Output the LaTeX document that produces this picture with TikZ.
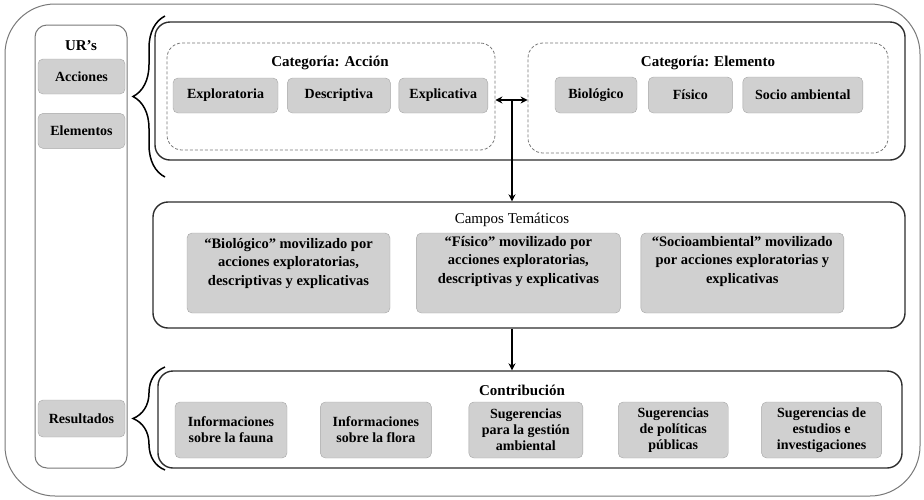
\documentclass[tikz,border=0pt]{standalone}
\usepackage{fontspec}
\setmainfont{Liberation Serif}
\usetikzlibrary{positioning, arrows.meta, decorations.pathreplacing}
\definecolor{boxgray}{RGB}{208,208,208}
\definecolor{boxedge}{RGB}{165,165,165}
\definecolor{framegray}{RGB}{45,45,45}
\definecolor{linegray}{RGB}{120,120,120}

\begin{document}
\begin{tikzpicture}[x=1pt, y=-1pt,
	item/.style={draw=boxedge, fill=boxgray, rounded corners=5pt, align=center, inner sep=0pt,
		font=\fontsize{14}{16}\selectfont\bfseries},
	tema/.style={align=center, inner sep=0pt, font=\fontsize{14.5}{18.5}\selectfont\bfseries},
	frame/.style={draw=framegray, line width=1.4pt, rounded corners=15pt, inner sep=0pt},
	group/.style={draw=linegray, line width=0.8pt, dash pattern=on 3pt off 2pt, rounded corners=15pt, inner sep=0pt},
	title/.style={font=\fontsize{15}{17}\selectfont\bfseries},
	link/.style={line width=1.6pt, -{Stealth[length=7pt, width=7pt]}},
	both/.style={line width=1.6pt, {Stealth[length=7pt, width=7pt]}-{Stealth[length=7pt, width=7pt]}},
	curly/.style={decorate, decoration={brace, amplitude=32pt, aspect=0.5}, line width=1.5pt}]

	\useasboundingbox (0,0) rectangle (924,499);
	\node[draw=linegray, line width=1pt, rounded corners=50pt, minimum width=915pt, minimum height=492pt] (all) at (462.5,250) {};

	% left column
	\node[draw=linegray, line width=1pt, rounded corners=12pt, minimum width=92pt, minimum height=443pt] (urs) at (81,246.5) {};
	\node[title] (ursT) at (81,46) {UR’s};
	\node[item, minimum width=87pt, minimum height=35pt] (acc) at (81.5,76.5) {Acciones};
	\node[item, minimum width=87pt, minimum height=35pt, below=19pt of acc] (ele) {Elementos};
	\node[item, minimum width=87pt, minimum height=37pt] (res) at (81.5,418.5) {Resultados};

	% categorias
	\node[frame, minimum width=750pt, minimum height=138pt] (cat) at (530,91) {};
	\node[group, minimum width=328pt, minimum height=107pt] (accion) at (331,96.5) {};
	\node[group, minimum width=360pt, minimum height=110pt] (elemento) at (708,98) {};
	\node[title] (accT) at (330,63) {Categoría: Acción};
	\node[title] (eleT) at (708,63) {Categoría: Elemento};

	\node[item, minimum width=105pt, minimum height=35pt] (expl) at (225.5,95.5) {Exploratoria};
	\node[item, minimum width=103pt, minimum height=35pt, right=9pt of expl] (desc) {Descriptiva};
	\node[item, minimum width=89pt, minimum height=35pt, right=8pt of desc] (expc) {Explicativa};

	\node[item, minimum width=82pt, minimum height=36pt] (bio) at (596,95) {Biológico};
	\node[item, minimum width=84pt, minimum height=36pt, right=11pt of bio] (fis) {Físico};
	\node[item, minimum width=120pt, minimum height=36pt, right=10pt of fis] (soc) {Socio ambiental};

	% campos tematicos
	\node[frame, minimum width=752pt, minimum height=126pt] (campos) at (529,265) {};
	\node[font=\fontsize{15}{17}\selectfont] (camT) at (512,220) {Campos Temáticos};
	\node[item, minimum width=203pt, minimum height=80pt] (tbio) at (288.5,273) {};
	\node[item, minimum width=204pt, minimum height=80pt, right=26pt of tbio] (tfis) {};
	\node[item, minimum width=203pt, minimum height=80pt, right=20pt of tfis] (tsoc) {};
	\node[tema, below=5pt of tbio.north] (tbioT) {“Biológico” movilizado por\\acciones exploratorias,\\descriptivas y explicativas};
	\node[tema, below=3pt of tfis.north] (tfisT) {“Físico” movilizado por\\acciones exploratorias,\\descriptivas y explicativas};
	\node[tema, below=3pt of tsoc.north] (tsocT) {“Socioambiental” movilizado\\por acciones exploratorias y\\explicativas};

	% contribucion
	\node[frame, minimum width=744pt, minimum height=97pt] (contrib) at (530,419.5) {};
	\node[title] (conT) at (522,390) {Contribución};
	\node[item, minimum width=112pt, minimum height=56pt] (fauna) at (231,430) {Informaciones\\sobre la fauna};
	\node[item, minimum width=111pt, minimum height=56pt, right=33pt of fauna] (flora) {Informaciones\\sobre la flora};
	\node[item, minimum width=114pt, minimum height=56pt, right=37pt of flora] (gest) {Sugerencias\\para la gestión\\ambiental};
	\node[item, minimum width=110pt, minimum height=56pt, right=35pt of gest] (pol) {Sugerencias\\de políticas\\públicas};
	\node[item, minimum width=120pt, minimum height=56pt, right=33pt of pol] (est) {Sugerencias de\\estudios e\\investigaciones};

	% connectors
	\coordinate (hub) at (512,100);
	\draw[both] (accion.east |- hub) -- (elemento.west |- hub);
	\draw[link] (hub) -- (campos.north -| hub);
	\draw[link] (campos.south -| hub) -- (contrib.north -| hub);

	% braces
	\draw[curly] (165,177) -- (165,16);
	\draw[curly] (165,470) -- (165,367);
\end{tikzpicture}
\end{document}
